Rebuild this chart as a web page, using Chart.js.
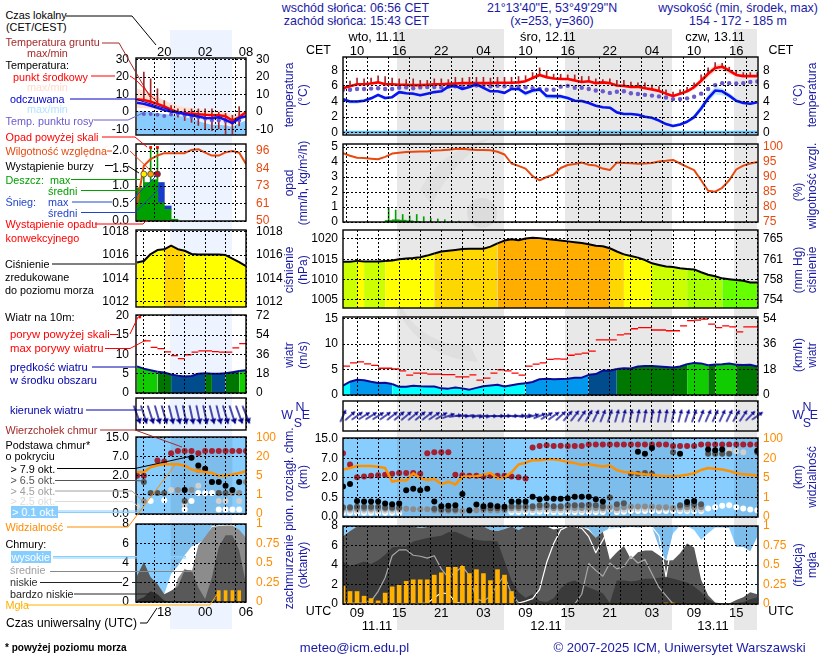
<!DOCTYPE html>
<html lang="pl">
<head>
<meta charset="utf-8">
<title>Meteogram ICM</title>
<script src="https://cdn.jsdelivr.net/npm/chart.js@4/dist/chart.umd.min.js"></script>
<style>
  html, body { margin: 0; padding: 0; background: #fff; }
  #page { position: relative; width: 820px; height: 660px; overflow: hidden; font: 12.4px "Liberation Sans", Arial, sans-serif; }
  #page canvas, #page svg { position: absolute; }
  .band { position: absolute; }
  .lab { position: absolute; white-space: nowrap; transform: translateY(-50%); line-height: 1; font-size: 10.8px; }
  .rot { position: absolute; white-space: nowrap; transform: translate(-50%, -50%) rotate(-90deg); line-height: 1; color: #1a1aa6; font-size: 12px; }
  .mid { position: absolute; white-space: nowrap; transform: translate(-50%, -50%); line-height: 1; }
</style>
</head>
<body>
<div id="page"></div>
<script>
// hours counted from 00 UTC on 11.11
const mainHours = [7,8,9,10,11,12,13,14,15,16,17,18,19,20,21,22,23,24,25,26,27,28,29,30,31,32,33,34,35,36,37,38,39,40,41,42,43,44,45,46,47,48,49,50,51,52,53,54,55,56,57,58,59,60,61,62,63,64,65,66];
const leftHours = [14,15,16,17,18,19,20,21,22,23,24,25,26,27,28,29,30];
const nightMain = [[14.7, 29.95], [38.7, 53.95], [62.7, 66.1]];
const nightLeft = [[18.95, 28]];
const cloudLevelKm = ['0.0', '0.5', '2.0', '7.0', '15.0'];
const visLevelKm = ['0', '1', '5', '20', '100'];
const stripHours = [7, 66];
const tempStrip = [0.05, 0.05];

// main panel: temperature
const tempMid = [5.7,5.95,6.2,6.2,6.3,6.45,6.2,6.2,6.15,6.15,6.1,6.1,6.15,6.2,6.2,6.25,6.3,6.35,6.35,6.35,6.35,6.35,6.4,6.4,6.4,6.45,6.6,7.0,7.4,7.1,6.95,6.9,6.87,6.7,6.5,6.6,6.35,6.45,6.35,6.05,6.0,5.85,5.9,5.7,5.55,5.35,5.0,4.7,5.0,5.3,5.85,6.65,7.55,8.3,8.45,7.95,7.4,7.25,7.25,7.25];
const tempMax = [5.8,6.1,6.3,6.3,6.4,6.6,6.4,6.3,6.25,6.2,6.2,6.2,6.2,6.3,6.3,6.3,6.4,6.4,6.4,6.4,6.4,6.4,6.5,6.5,6.5,6.5,6.7,7.15,7.65,7.4,7.1,7.0,7.0,6.8,6.6,6.7,6.45,6.6,6.45,6.2,6.1,6.0,6.0,5.8,5.65,5.45,5.1,4.8,5.15,5.5,6.1,7.0,7.95,8.75,8.85,8.3,7.65,7.35,7.3,7.3];
const tempMin = [5.6,5.8,6.1,6.1,6.2,6.3,6.1,6.1,6.05,6.05,6.0,6.0,6.05,6.1,6.1,6.15,6.2,6.25,6.25,6.25,6.25,6.25,6.3,6.3,6.3,6.35,6.5,6.85,7.15,6.9,6.8,6.75,6.7,6.55,6.4,6.5,6.25,6.3,6.2,5.95,5.9,5.75,5.8,5.6,5.45,5.25,4.9,4.6,4.85,5.1,5.5,6.2,7.1,7.8,7.95,7.55,7.2,7.15,7.15,7.15];
const feltMid = [4.3,4.0,4.0,4.1,4.4,4.85,4.45,4.55,5.2,5.05,5.0,4.8,5.0,5.2,5.3,5.9,6.0,5.6,5.85,6.2,5.75,5.3,5.3,5.1,5.6,5.6,5.05,5.4,5.55,4.7,4.68,4.68,4.45,4.1,4.05,3.8,3.45,3.25,3.2,2.6,2.4,2.4,2.3,2.05,1.9,1.55,1.1,0.85,1.05,1.4,2.0,3.1,4.4,5.4,5.3,4.75,4.1,3.8,3.7,3.9];
const feltMax = [4.5,4.2,4.2,4.3,4.6,5.0,4.6,4.7,5.3,5.2,5.1,4.9,5.1,5.3,5.4,6.0,6.1,5.7,5.95,6.3,5.85,5.4,5.4,5.25,5.75,5.75,5.2,5.6,5.7,4.9,4.85,4.8,4.65,4.3,4.25,4.0,3.6,3.4,3.35,2.75,2.55,2.55,2.45,2.2,2.05,1.7,1.25,1.0,1.25,1.6,2.3,3.5,4.9,5.9,5.7,5.1,4.4,3.95,3.85,4.0];
const feltMin = [4.0,3.7,3.7,3.9,4.2,4.6,4.2,4.4,5.0,4.9,4.85,4.65,4.85,5.05,5.15,5.75,5.85,5.45,5.7,6.05,5.6,5.15,5.15,4.95,5.4,5.35,4.7,5.1,5.2,4.3,4.3,4.35,4.2,3.9,3.85,3.6,3.3,3.1,3.05,2.45,2.25,2.25,2.15,1.9,1.7,1.35,0.95,0.7,0.9,1.2,1.7,2.7,3.9,4.9,4.8,4.4,3.85,3.65,3.55,3.75];
const dewMain = [5.5,5.5,5.6,5.6,5.65,5.7,5.6,5.6,5.75,5.8,5.7,5.8,5.85,5.85,5.8,5.9,5.95,5.9,6.0,6.05,6.0,5.95,6.0,5.95,5.9,5.9,5.8,5.7,5.6,5.5,5.5,5.9,6.0,5.75,5.75,5.6,5.4,5.3,5.1,5.25,5.3,5.05,4.95,4.85,4.75,4.65,4.5,4.3,4.3,4.4,4.6,5.0,5.6,6.1,6.35,6.35,6.3,6.35,6.5,6.55];
const soilMaxMain = [6.1,6.6,7.0,6.9,7.0,7.3,7.2,7.0,6.9,6.8,6.9,6.7,6.7,6.9,6.9,6.8,7.1,7.0,7.1,7.1,7.1,7.0,7.1,7.1,7.1,7.2,7.3,7.7,8.3,7.9,7.5,7.5,7.4,7.4,7.2,7.2,6.9,6.8,6.9,6.7,6.7,6.5,6.4,6.4,6.1,5.9,5.5,5.2,5.5,5.8,6.4,7.4,8.3,9.0,8.9,8.4,7.9,7.7,7.7,7.7];

// main panel: precipitation and humidity
const rainMaxHours = [13.5,14.5,15.5,16.5,17.5,18.5,19.5,20.5,21.5,22.5,23.5];
const rainMaxMain = [0.97,0.8,0.5,0.4,0.5,0.35,0.25,0.2,0.15,0.08,0.06];
const rainMeanHours = [13.5,14.5,15.5,16.5,17.5];
const rainMeanMain = [0.1,0.15,0.12,0.08,0.03];
const humidMain = [97.9,97.1,96.4,96.3,96.1,95.9,96.7,97.8,98.1,98.3,98.4,98.5,98.5,98.8,98.9,99.1,99.3,99.4,99.2,99.0,99.0,98.9,98.4,97.5,94.5,93.7,92.8,90.3,88.9,90.0,90.8,93.0,94.0,94.3,94.8,94.1,93.8,92.8,92.3,94.8,94.7,94.6,94.4,94.5,94.7,95.2,95.4,95.7,94.5,93.4,92.3,88.9,85.4,85.1,86.4,88.9,92.5,93.8,94.5,95.0];

// main panel: pressure (hPa)
const pressMain = [1014.4,1014.4,1014.6,1014.45,1014.45,1014.45,1014.55,1014.7,1015,1015.2,1015.3,1015.5,1015.9,1016.4,1016.9,1017.1,1017.3,1017.5,1017.6,1017.6,1017.6,1018.1,1018.9,1019.6,1019.9,1019.7,1020.1,1020.3,1020.2,1020,1019.8,1019.6,1019.4,1019.2,1019,1018.7,1018.3,1018.2,1017.7,1016.9,1016.2,1015.8,1015.4,1014.8,1014,1013.6,1013.2,1013.1,1012.8,1012.6,1012.5,1011.8,1011.2,1010.8,1010.3,1010.1,1009.9,1009.7,1009.3,1009.3];

// main panel: wind (m/s) and direction the arrow points to (degrees)
const windMain = [1.85,2.6,3.0,2.9,2.6,2.35,2.4,2.15,1.6,1.6,1.8,1.7,1.65,1.65,1.3,1.25,1.45,1.3,1.05,1.4,1.7,1.85,2.0,1.65,1.9,2.15,2.3,2.55,3.1,3.2,3.1,3.15,3.2,3.4,3.4,3.95,4.1,4.8,4.75,5.1,5.25,5.2,5.6,5.7,5.7,5.6,5.5,5.4,5.6,6.05,6.3,6.2,5.85,6.0,6.05,6.2,5.95,5.9,5.95,5.6];
const gustMain = [5.65,6.3,6.5,6.1,5.8,5.25,5.25,5.1,4.75,3.9,4.3,4.3,4.1,4.1,4,4,3.55,3.55,3.95,2.9,3.3,4.3,4.95,4.75,4.3,3.9,5.65,6.05,6.3,7.0,7.1,7.05,7.8,8.0,8.2,8.6,10.8,10.8,10.8,11.8,12,13,13.2,13.2,12.75,12.75,12.6,12.6,13.55,14.6,14.7,14.9,13.9,13.2,13.55,13.35,12.4,13.35,13.35,13.35];
const dirMain = [25,48,55,58,58,58,55,52,50,50,50,50,52,56,60,70,82,92,96,98,96,92,90,88,88,86,84,76,68,60,55,48,42,38,35,30,26,22,18,16,14,12,12,10,10,10,10,12,15,18,20,22,24,25,25,26,30,34,44,55];

// main panel: cloud base / top heights, on the level axis 0..4 (0, 0.5, 2, 7, 15 km)
const cloudTop = [3.25,2.68,2.03,2.06,2.1,2.13,2.16,2.2,2.25,2.25,2.25,2.2,3.25,3.3,3.3,3.3,2.16,2.13,2.1,2.1,2.06,2.1,2.1,2.1,2.06,2.03,1.96,3.54,3.62,3.66,3.62,3.63,3.62,3.62,3.62,3.7,3.7,3.7,3.7,3.7,3.7,3.7,3.7,3.7,3.7,3.7,3.7,3.62,3.62,3.62,3.62,3.7,3.7,3.7,3.7,3.7,3.7,3.7,3.7,3.7];
const base79 = [1.55,1.68,0.82,0.79,0.79,0.79,0.69,0.65,0.69,1.37,1.44,1.37,1.44,0.79,0.55,0.57,0.6,1.17,0.34,0.64,0.55,0.6,0.55,0.52,0.79,0.79,0.79,1.03,0.91,0.96,0.93,0.93,0.96,1.03,1.03,1.03,0.91,0.79,null,null,null,null,3.33,3.23,3.52,null,null,null,3.23,0.77,0.81,null,3.44,3.4,3.44,null,null,null,null,3.38];
const base65 = [0.5,0.5,0.52,0.52,0.52,0.52,0.48,0.48,0.48,null,null,null,null,0.42,0.38,0.38,0.38,null,null,null,0.45,0.45,0.45,0.42,0.55,0.55,0.55,0.55,0.6,0.6,0.55,0.55,0.6,0.6,0.6,0.62,0.6,0.55,1.0,0.65,0.7,2.2,2.2,2.25,2.2,null,null,3.3,0.6,0.65,0.65,0.65,3.23,3.23,3.23,3.23,null,null,null,3.3];
const base45 = [0.42,0.42,0.42,0.42,0.42,0.42,0.42,0.42,0.42,0.42,0.4,0.4,0.4,0.35,0.32,0.32,0.32,0.3,0.3,0.35,0.35,0.35,0.35,0.35,0.45,0.45,0.45,0.45,0.48,0.48,0.45,0.45,0.46,0.46,0.46,0.46,0.46,0.44,0.5,0.45,0.5,0.52,0.53,0.53,0.52,0.5,0.5,0.46,0.5,0.5,0.5,0.5,null,null,null,null,null,null,null,null];
const base25 = [0.32,0.32,0.32,0.32,0.32,0.32,0.32,0.32,0.32,null,null,null,null,null,null,null,null,null,null,null,null,null,null,null,0.35,0.35,0.35,0.35,0.37,0.37,0.35,0.35,0.35,0.35,0.35,0.36,0.36,0.36,0.4,0.35,0.37,0.42,0.42,0.42,0.42,0.42,0.42,0.4,0.4,0.38,0.38,0.38,null,null,null,3.4,3.35,3.3,null,null];
const base01 = [0.22,0.22,0.22,0.22,0.22,0.22,0.22,0.22,0.22,null,null,null,null,null,null,null,null,null,null,null,null,null,null,null,0.25,0.25,0.25,0.25,0.27,0.27,0.25,0.25,0.25,0.25,0.25,0.26,0.26,0.26,0.4,0.25,0.27,0.3,0.3,0.3,0.3,0.3,0.3,0.3,0.3,0.3,0.3,0.3,0.43,0.5,0.58,0.6,0.5,0.43,0.38,0.34];
const visMain = [2.42,2.5,2.6,2.6,2.6,2.56,2.5,1.8,1.89,1.86,2.23,1.98,1.89,1.94,1.68,1.8,1.65,2.06,2.06,2.08,2.15,2.25,1.98,2.01,2.28,2.68,2.77,2.9,2.9,2.94,2.94,2.89,2.8,2.75,2.66,2.7,2.63,2.58,2.63,2.39,2.3,2.27,2.22,2.18,2.15,2.11,2.08,2.08,2.11,2.16,2.23,2.4,2.5,2.46,2.42,2.35,2.23,2.18,2.15,2.11];

// main panel: cloud cover (okta), fog as a fraction
const coverTop = [6.94,7.5,7.94,7.94,7.94,7.94,7.94,7.94,7.94,7.94,7.94,7.8,7.9,7.94,7.94,7.94,7.94,7.94,7.94,7.94,7.94,7.6,7.5,7.7,7.94,7.6,7.94,7.94,7.94,7.94,7.94,7.94,7.95,7.95,7.9,7.7,6.8,7.4,7.75,7.8,7.8,7.9,7.8,8,7.9,5.85,4.4,7.25,8,8,7.6,6.6,7.25,7.85,7.85,7.8,5.85,5.85,5.4,6.9];
const coverMid = [6.94,7.5,7.94,7.94,7.94,7.94,7.94,7.94,7.94,7.94,7.94,7.8,7.9,7.94,7.94,7.94,7.94,7.94,7.94,7.94,7.94,7.6,7.5,7.7,7.94,7.6,7.94,7.94,7.94,7.94,7.65,7.8,7.95,7.95,7.9,7.55,6.8,7.4,4.55,5.3,5.95,4.6,5.3,5.5,5.5,5.0,4.45,4.5,5.2,6.2,5.8,2.5,0.9,0.15,0.05,0.05,0.4,0.7,1.2,1.0];
const coverLow = [4.33,3.9,4.1,4.36,4.1,4.5,5.05,5.8,5.9,5.9,6.4,6.6,6.77,6.9,7.0,7.35,7.4,7.1,6.77,6.6,6.5,6.5,6.4,4.4,2.4,1.2,0.65,1.0,0.3,0.2,0.6,1.6,2.2,2.4,2.0,1.7,1.4,1.1,0.1,2.4,2.4,2.3,2.4,2.6,2.6,2.7,2.8,2.6,2.4,2.2,1.8,1.2,0.5,0.1,0.05,0.05,0.1,0.2,0.5,0.7];
const midLineMain = [0.2,0.1,0.1,0.1,0.3,1.3,2.7,4.95,5.55,5.55,5.0,4.9,4.7,4.95,3.6,2.7,3.25,3.85,2.9,0.5,0.3,0.8,2.0,2.9,1.0,0.15,0.05,0,0,0,0,0,0,0,1.0,4.15,3.45,2.85,4.2,3.6,3.85,4.9,4.2,4.55,3.1,1.7,0.85,0,null,null,null,null,null,null,null,null,null,null,null,null];
const highLineMain = [0.1,0.05,0.05,0.05,0.05,0.05,0.05,0.05,0.05,0.05,0.05,0.05,0.1,0.65,1.15,1.05,0.2,0.05,0,0,0,0,0,0,0,0.1,0.3,0.55,1.5,4.25,6.2,7.6,7.95,7.95,7.75,6.9,5.25,6.55,7.9,7.9,7.9,7.9,7.9,8,7.9,7,2.8,7,8,null,null,null,null,null,null,null,null,null,null,null];
const fogMain = [0.23,0.16,0.16,0.1,0.07,0.04,0.14,0.22,0.24,0.29,0.31,0.31,0.31,0.37,0.4,0.47,0.47,0.49,0.39,0.44,0.39,0.3,0.44,0.37,0.16,0,0,0,0,0,0,0,0,0,0,0,0,0,0,0,0,0,0,0,0,0,0.012,0.012,0,0,0,0,0,0,0,0,0,0,0,0];

// left panel: temperature
const tempMidL = [7.3,6.9,5.8,4.6,3.1,1.3,-0.2,-0.6,-1,-1.3,-1.7,-1.9,-1.9,-2.5,-5,-3,-0.2];
const tempMaxL = [13.3,12.3,10.4,8.5,6.5,5,3.7,2.7,2.3,1.7,0.8,0.8,0.8,-0.2,-1.5,0,1];
const tempMinL = [2.2,2.2,1.8,1,0.4,-0.6,-1.2,-2.2,-3,-3.8,-4.6,-5,-4.8,-6,-8,-5.4,-3.5];
const feltMidL = [5.2,4.6,3.5,2.3,1,0.2,-0.4,-1.2,-1.9,-2.7,-3.5,-3.7,-3.1,-4.6,-6.5,-3.5,-2.5];
const feltMaxL = [0.5,0.3,0,-0.6,-1.2,-1.6,-2.2,-3,-4,-5.2,-6.5,-7.4,-7.4,-7.8,-8.6,-6.4,-5];
const dewL = [null,-1.2,-1.2,-1.7,-2.3,-1.5,-1.2,-2,-3,-3.3,-4,-5,-5,-5.3,-6,-5,null];
const soilMaxL = [null,22.9,19,13.3,6.5,3.6,1.7,1.7,1.7,1.7,1.7,1.7,0,-0.8,-2,3,null];
const soilMinL = [null,7,5,4,3,-2.1,-3,-5,-6,-7.8,-9.8,-10.8,-9.8,-12.7,-12.7,-8,null];

// left panel: precipitation and humidity
const rainHoursL = [14.5,15.5,16.5,17.5,18.5,19.5];
const rainMeanL = [0.95,1.1,1.18,0.52,0.33,0.05];
const snowBaseL = [0.52,0.33];
const snowTopL = [1.1,0.43];
const snowHoursL = [17.5,18.5];
const rainSpikeHours = [15,16,17];
const rainSpikeTop = [1.34,2.1,2.1];
const overflowHours = [16,17];
const overflowRain = [2.1,2.1];
const stormHours = [15,16,17];
const stormLevel = [1.34,1.34,1.34];
const humidL = [60.8,86.3,90.7,93,94.6,94.6,94.6,94.6,96.7,97.2,94.9,93,93,95.1,96,94.9,87.5];
const convectHours = [14,15,16,17,18,19];
const convectLevel = [0.01,0.01,0.01,0.01,0.01,0.01];

// left panel: pressure, wind
const pressL = [1015.37,1015.5,1016.09,1016.43,1016.49,1016.8,1016.5,1016.37,1016.09,1016.05,1016.05,1016.05,1016.05,1016,1015.7,1015.4,1015.06];
const windL = [6.9,6.3,5.9,5.5,5.3,4.8,4.5,4.3,4.4,5,5.1,4.99,4.99,5.1,5.4,5.7,5.9];
const gustL = [null,13.5,11.8,11.5,10.65,9.7,8.9,9.9,10.6,10.9,10.9,10.7,10.6,10.6,11.7,12.8,13];
const gustOverHours = [14.4];
const gustOver = [19.7];
const dirL = [160,162,162,164,164,166,166,168,168,168,168,166,166,164,162,160,158];

// left panel: cloud heights on the level axis
const cloudTopL = [2,2,null,2.8,2.75,3.18,3.3,3.3,3.3,3.18,3.3,3.3,3.3,3.3,3.3,3.3,3.3];
const base79L = [null,null,null,null,null,null,null,1.26,2.95,2.54,2.37,1.68,1.68,1.48,1.26,1.68,null];
const base65L = [null,1.68,1.1,1.1,1.1,null,null,0.68,null,null,null,null,1.1,1.1,null,null,null];
const base45L = [null,0.68,null,null,null,null,1.26,null,1.26,2.3,null,1.68,null,null,1.1,1.1,1.68];
const base25L = [0.4,null,null,null,null,1.26,null,0.5,null,1.48,null,null,0.68,0.68,null,0.68,null];
const base01L = [null,0.68,0.68,null,0.72,null,null,0.24,0.68,1.1,1.1,1.1,0.24,0.24,0.24,0.24,null];
const visL = [2.2,2.2,2.45,2.55,2.6,2.6,2.6,2.53,2.33,2.24,2.2,2.15,2,2.02,2.07,2.15,2.24];

// left panel: cloud cover
const coverTopL = [0,0,0,0,0.8,2.9,3.7,4.8,5.7,6,6.5,7.8,7.85,7.95,8,7.2,6.4];
const coverMidL = [0,0,0,0,0,0,2.4,3.4,3,5.8,6.7,7.7,7.8,7.85,7.85,7.4,6.6];
const coverLowL = [2.7,4.1,2.55,1.85,0.8,1.15,1.6,3.25,3.25,1.5,0.3,2.55,5.65,6.85,6.85,5.3,1.85];
const coverVeryLowL = [0.2,0.5,1.1,0.8,0.15,0,0,0,0,0,0,0,0,0,0,0,0];
const fogHoursL = [26,27,28,29];
const fogL = [0.146,0.146,0.146,0.146];

const FONT = '"Liberation Sans", Arial, sans-serif';
const page = document.getElementById('page');
const MAIN = { l: 342.5, w: 415, min: 7, max: 66.1, nights: nightMain };
const LEFT = { l: 135.5, w: 110, min: 13.85, max: 30, nights: nightLeft };

function toXY(xs, ys) {
  return ys.map((y, i) => ({ x: xs[i], y }));
}
function stepped(xs, ys) {
  const out = [];
  ys.forEach((y, i) => {
    if (y === null) return;
    out.push({ x: xs[i], y }, { x: xs[i] + 1, y }, { x: xs[i] + 1, y: null });
  });
  return out;
}
function ranges(xs, lo, hi) {
  return lo.map((v, i) => ({ x: xs[i], y: [v, hi[i]] })).filter((p) => p.y[0] !== null);
}

function pressColor(v) {
  if (v < 1010.8) return '#66ff00';
  if (v < 1012.7) return '#a8ff00';
  if (v < 1014.5) return '#ccff00';
  if (v < 1016.4) return '#ffff00';
  if (v < 1018.15) return '#ffd700';
  return '#ffae00';
}
function pressColorL(v) {
  return v >= 1016.45 ? '#ffd400' : '#ffff00';
}
function windColor(v) {
  if (v < 2.2) return '#00ffff';
  if (v < 3.9) return '#0099ee';
  if (v < 5.05) return '#004c8c';
  if (v < 6) return '#007700';
  return '#11cc00';
}
function windColorL(v) {
  if (v < 5.05) return '#004c8c';
  if (v < 5.7) return '#007700';
  return '#11cc00';
}

function arrowSprite(len, head, color) {
  const c = document.createElement('canvas');
  c.width = 30;
  c.height = 30;
  const g = c.getContext('2d');
  g.strokeStyle = color;
  g.fillStyle = color;
  g.lineWidth = 1.4;
  g.beginPath();
  g.moveTo(15, 15 + len / 2);
  g.lineTo(15, 15 - len / 2);
  g.stroke();
  const tip = 15 - len / 2;
  g.beginPath();
  g.moveTo(15, tip);
  g.lineTo(15 - head, tip + head * 1.5);
  g.lineTo(15 + head, tip + head * 1.5);
  g.closePath();
  g.fill();
  return c;
}

// one Chart.js instance per panel; canvas is bigger than the plot so ticks fit.
// the padding must stay above half a tick label + tick padding or the plot shrinks
function panel(o) {
  const padX = 62, padT = o.padT || 20, padB = o.padB || 20;
  const canvas = document.createElement('canvas');
  canvas.width = Math.round(o.area.w + padX * 2);
  canvas.height = Math.round(o.h + padT + padB);
  canvas.style.left = (o.area.l - padX) + 'px';
  canvas.style.top = (o.t - padT) + 'px';
  page.appendChild(canvas);
  const tickFont = { family: FONT, size: 12 };
  const framePlugin = {
    id: 'frame',
    beforeDatasetsDraw(chart) {
      if (!o.bg) return;
      const { ctx, chartArea: a, scales } = chart;
      ctx.save();
      ctx.fillStyle = o.bg;
      ctx.fillRect(a.left, a.top, a.width, a.height);
      ctx.fillStyle = o.bgNight;
      o.area.nights.forEach(([from, to]) => {
        const x0 = scales.x.getPixelForValue(from);
        const x1 = scales.x.getPixelForValue(to);
        ctx.fillRect(x0, a.top, x1 - x0, a.height);
      });
      ctx.restore();
    },
    afterDraw(chart) {
      const { ctx, chartArea: a } = chart;
      ctx.save();
      ctx.strokeStyle = '#000';
      ctx.lineWidth = 1.4;
      ctx.strokeRect(a.left, a.top, a.width, a.height);
      ctx.restore();
    }
  };
  // labels are clipped to the axis box, so a labelled x axis takes the padding as its height
  const xHeight = o.xLabel ? (o.xTop ? padT : padB) : 0;
  const xOpts = {
    type: 'linear',
    position: o.xTop ? 'top' : 'bottom',
    min: o.area.min,
    max: o.area.max,
    offset: false,
    afterFit: (s) => { s.height = xHeight; },
    border: { display: false, dash: [2, 2] },
    grid: { color: '#000', lineWidth: 1, drawTicks: false, z: 1 },
    ticks: {
      stepSize: 3,
      includeBounds: false,
      autoSkip: false,
      maxRotation: 0,
      padding: o.xPad || 0,
      font: { family: FONT, size: 13 },
      color: '#000',
      display: Boolean(o.xLabel),
      callback: o.xLabel || (() => '')
    }
  };
  const yAxis = (id, pos, range, ticks, label, color, pad, width) => ({
    axis: 'y',
    position: pos,
    min: range[0],
    max: range[1],
    afterFit: (s) => { s.width = width; },
    afterBuildTicks: (s) => { s.ticks = ticks.map((value) => ({ value })); },
    border: { display: false, dash: [2, 2] },
    grid: id === 'y'
      ? { color: '#000', lineWidth: 1, drawTicks: false, z: 1, display: ticks.length > 0 }
      : { display: false, drawTicks: false },
    ticks: {
      font: tickFont,
      color,
      padding: pad,
      autoSkip: false,
      callback: label || ((v) => String(v))
    }
  });
  const pad = o.area === MAIN ? 5 : 7;
  const padR = o.area === MAIN ? 5 : 10;
  const y2Range = o.y2Range || o.yRange;
  const y2Ticks = o.y2Ticks || o.yTicks;
  return new Chart(canvas, {
    type: 'line',
    data: { datasets: o.datasets },
    options: {
      responsive: false,
      animation: false,
      devicePixelRatio: 1,
      events: [],
      layout: { padding: {
        top: o.xLabel && o.xTop ? 0 : padT,
        bottom: o.xLabel && !o.xTop ? 0 : padB,
        left: 0,
        right: 0
      } },
      parsing: { xAxisKey: 'x', yAxisKey: 'y' },
      plugins: { legend: { display: false }, tooltip: { enabled: false } },
      elements: { line: { tension: 0, borderJoinStyle: 'round' }, point: { radius: 0 } },
      scales: {
        x: xOpts,
        y: yAxis('y', 'left', o.yRange, o.yTicks, o.yLabel, '#000', pad, padX),
        y2: yAxis('y2', 'right', y2Range, y2Ticks, o.y2Label, o.y2Color || '#000', padR, padX)
      }
    },
    plugins: [framePlugin]
  });
}

function line(data, color, width, extra) {
  return Object.assign({ data, borderColor: color, borderWidth: width, pointRadius: 0, fill: false, spanGaps: false }, extra);
}
function dots(data, color, r, extra) {
  return Object.assign({ data, showLine: false, pointRadius: r || 3, pointBackgroundColor: color, pointBorderWidth: 0, borderWidth: 0 }, extra);
}
function filled(values, hours, border, width, colorFn) {
  return {
    data: toXY(hours, values),
    borderColor: border,
    borderWidth: width,
    pointRadius: 0,
    fill: 'start',
    backgroundColor: colorFn(values[0]),
    segment: { backgroundColor: (ctx) => colorFn(values[ctx.p0DataIndex]) }
  };
}
function solidFill(values, hours, color) {
  return { data: toXY(hours, values), borderWidth: 0, pointRadius: 0, fill: 'start', backgroundColor: color };
}
function band(upper, lower, hours, color) {
  return [
    { data: toXY(hours, upper), borderWidth: 0, pointRadius: 0, fill: '+1', backgroundColor: color },
    { data: toXY(hours, lower), borderWidth: 0, pointRadius: 0, fill: false }
  ];
}
function bars(data, color, width, yAxisID) {
  return { type: 'bar', data, backgroundColor: color, barThickness: width, grouped: false, yAxisID: yAxisID || 'y', borderWidth: 0 };
}

const cetLabel = (v) => ((v - 9) % 6 === 0 ? String((v + 1) % 24).padStart(2, '0') : '');
const utcLabel = (v) => ((v - 9) % 6 === 0 ? String(v % 24).padStart(2, '0') : '');
const cetLabelL = (v) => (v % 6 === 0 ? String((v + 2) % 24).padStart(2, '0') : '');
const utcLabelL = (v) => (v % 6 === 0 ? String(v % 24).padStart(2, '0') : '');
const fixed1 = (v) => v.toFixed(1);
const BG = '#87cefe', BG_NIGHT = '#7dbdec';

// ---- bands behind everything ----
function nightBand(area, from, to, top, bottom, color) {
  const k = area.w / (area.max - area.min);
  const d = document.createElement('div');
  d.className = 'band';
  d.style.cssText = `left:${area.l + (from - area.min) * k}px;width:${(to - from) * k}px;top:${top}px;height:${bottom - top}px;background:${color}`;
  page.appendChild(d);
}
nightMain.forEach(([a, b]) => nightBand(MAIN, a, b, 29, 630, '#e8e8e8'));
nightLeft.forEach(([a, b]) => nightBand(LEFT, a, b, 30, 629, '#eef4ff'));

// faint logo behind the main panels
page.insertAdjacentHTML('beforeend', `<svg width="820" height="660" style="left:0;top:0">
  <circle cx="482" cy="213" r="15" fill="#000" opacity="0.05"/>
  <path d="M397 250 A72 72 0 0 0 470 345 L478 362 A92 92 0 0 1 400 315 Z" fill="#000" opacity="0.035"/>
  <path d="M420 190 Q440 150 490 138 Q450 165 432 205 Z" fill="#000" opacity="0.03"/>
</svg>`);

// ---- main column ----
panel({
  area: MAIN, t: 57, h: 78, xTop: true, xLabel: cetLabel, xPad: -2,
  yRange: [-0.3, 9.7], yTicks: [0, 2, 4, 6, 8],
  datasets: [
    line(toXY(mainHours, feltMid), '#0a14f0', 2.6),
    line(toXY(mainHours, tempMid), '#ff0000', 2.6),
    dots(toXY(mainHours, dewMain), '#6a5acd', 2.2),
    bars(ranges(mainHours, tempMid, soilMaxMain), '#a52a2a', 1),
    ...band(feltMax, feltMin, mainHours, '#bde6ff'),
    ...band(tempMax, tempMin, mainHours, '#ffd8d0'),
    line(toXY(stripHours, tempStrip), '#62bdf0', 3)
  ]
});

panel({
  area: MAIN, t: 144, h: 77.5,
  yRange: [0, 5.2], yTicks: [0, 1, 2, 3, 4, 5],
  y2Range: [75, 101], y2Ticks: [75, 80, 85, 90, 95, 100], y2Color: '#e8490f',
  datasets: [
    line(toXY(mainHours, humidMain), '#e8490f', 2, { yAxisID: 'y2' }),
    bars(toXY(rainMeanHours, rainMeanMain), '#00a000', 7),
    bars(toXY(rainMaxHours, rainMaxMain), '#00a000', 1)
  ]
});

panel({
  area: MAIN, t: 230, h: 78.3,
  yRange: [1003, 1022.2], yTicks: [1005, 1010, 1015, 1020],
  y2Label: (v) => String(Math.round(v * 0.75006)),
  datasets: [filled(pressMain, mainHours, '#000', 2, pressColor)]
});

panel({
  area: MAIN, t: 317.3, h: 77.7,
  yRange: [0, 15.3], yTicks: [0, 5, 10, 15],
  y2Label: (v) => String(Math.round(v * 3.6)),
  datasets: [
    line(stepped(mainHours, gustMain), '#ff0000', 1.3),
    filled(windMain, mainHours, '#0a0a96', 2, windColor)
  ]
});

panel({
  area: MAIN, t: 401.3, h: 30.4,
  yRange: [0, 1], yTicks: [],
  datasets: [{
    data: mainHours.map((x) => ({ x, y: 0.5 })),
    showLine: false,
    clip: false,
    pointRadius: 1,
    pointStyle: arrowSprite(13, 2.4, '#0a0a96'),
    pointRotation: dirMain
  }]
});

panel({
  area: MAIN, t: 437.5, h: 78.5,
  bg: BG, bgNight: BG_NIGHT,
  yRange: [0, 4.03], yTicks: [0, 1, 2, 3, 4],
  yLabel: (v) => cloudLevelKm[v],
  y2Label: (v) => visLevelKm[v], y2Color: '#ff8c00',
  datasets: [
    line(toXY(mainHours, visMain), '#ff9000', 2.5),
    dots(toXY(mainHours, base79), '#000'),
    dots(toXY(mainHours, base65), '#555'),
    dots(toXY(mainHours, base45), '#8c8c8c'),
    dots(toXY(mainHours, base25), '#d0d0d0'),
    dots(toXY(mainHours, base01), '#fff'),
    dots(toXY(mainHours, cloudTop), '#a52030')
  ]
});

panel({
  area: MAIN, t: 525.7, h: 77.6, padB: 24, xLabel: utcLabel, xPad: 2,
  bg: BG, bgNight: BG_NIGHT,
  yRange: [0, 8], yTicks: [0, 2, 4, 6, 8],
  y2Range: [0, 1], y2Ticks: [0, 0.25, 0.5, 0.75, 1], y2Color: '#ff8c00',
  datasets: [
    bars(toXY(mainHours, fogMain), '#ffb000', 4, 'y2'),
    line(toXY(mainHours, highLineMain), '#ffffff', 1.2),
    line(toXY(mainHours, midLineMain), '#a8a8a8', 1.2),
    solidFill(coverLow, mainHours, '#3a3a3a'),
    solidFill(coverMid, mainHours, '#595959'),
    solidFill(coverTop, mainHours, '#ffffff')
  ]
});

// ---- left column ----
panel({
  area: LEFT, t: 57.5, h: 77, xTop: true, xLabel: cetLabelL, xPad: -2,
  yRange: [-13.3, 31], yTicks: [-10, 0, 10, 20, 30],
  datasets: [
    line(toXY(leftHours, feltMidL), '#0a14f0', 2.5),
    line(toXY(leftHours, tempMidL), '#ff0000', 2.5),
    dots(toXY(leftHours, dewL), '#6a5acd', 2),
    bars(ranges(leftHours, soilMinL, soilMaxL), '#a52a2a', 1),
    { data: toXY(leftHours, feltMaxL), borderWidth: 0, pointRadius: 0, fill: 'start', backgroundColor: '#88ccff' },
    ...band(tempMaxL, tempMinL, leftHours, '#ffe0d2')
  ]
});

panel({
  area: LEFT, t: 143.5, h: 76.5,
  yRange: [0, 2.2], yTicks: [0, 0.5, 1, 1.5, 2], yLabel: fixed1,
  y2Range: [50, 100.6], y2Ticks: [50, 61.5, 73, 84.5, 96], y2Label: (v) => String(Math.floor(v)), y2Color: '#e8490f',
  datasets: [
    dots(toXY(convectHours, convectLevel), '#ff0000', 1),
    dots(toXY(overflowHours, overflowRain), '#ff0000', 2, { pointStyle: 'rect' }),
    dots(toXY(stormHours.slice(0, 1), stormLevel), '#ffee00', 3, { pointBorderWidth: 0.8, pointBorderColor: '#444' }),
    dots(toXY(stormHours.slice(1, 2), stormLevel), '#ffa000', 3, { pointBorderWidth: 0.8, pointBorderColor: '#444' }),
    dots(toXY(stormHours.slice(2), stormLevel), '#e00000', 3, { pointBorderWidth: 0.8, pointBorderColor: '#444' }),
    line(toXY(leftHours, humidL), '#e8490f', 2, { yAxisID: 'y2' }),
    bars(toXY(rainSpikeHours, rainSpikeTop), '#00a000', 1),
    bars(toXY(rainHoursL, rainMeanL), '#00a000', 7),
    bars(ranges(snowHoursL, snowBaseL, snowTopL), '#1a3ccc', 7)
  ]
});

panel({
  area: LEFT, t: 229.5, h: 76.5,
  yRange: [1011.57, 1018.14], yTicks: [1012, 1014, 1016, 1018],
  datasets: [filled(pressL, leftHours, '#000', 2, pressColorL)]
});

panel({
  area: LEFT, t: 314.7, h: 77.6,
  yRange: [0, 20.2], yTicks: [0, 5, 10, 15, 20],
  y2Label: (v) => String(Math.round(v * 3.6)),
  datasets: [
    dots(toXY(gustOverHours, gustOver), '#ff0000', 1.5),
    line(stepped(leftHours, gustL), '#ff0000', 1.3),
    filled(windL, leftHours, '#0a0a96', 2, windColorL)
  ]
});

panel({
  area: LEFT, t: 398.3, h: 31.7,
  yRange: [0, 1], yTicks: [],
  datasets: [{
    data: leftHours.map((x) => ({ x, y: 0.48 })),
    showLine: false,
    clip: false,
    pointRadius: 1,
    pointStyle: arrowSprite(19, 3.4, '#00008b'),
    pointRotation: dirL
  }]
});

panel({
  area: LEFT, t: 436.7, h: 77.3,
  bg: BG, bgNight: BG_NIGHT,
  yRange: [0, 4.03], yTicks: [0, 1, 2, 3, 4],
  yLabel: (v) => cloudLevelKm[v],
  y2Label: (v) => visLevelKm[v], y2Color: '#ff8c00',
  datasets: [
    line(toXY(leftHours, visL), '#ff9000', 2.5),
    dots(toXY(leftHours, base79L), '#000'),
    dots(toXY(leftHours, base65L), '#555'),
    dots(toXY(leftHours, base45L), '#8c8c8c'),
    dots(toXY(leftHours, base25L), '#d0d0d0'),
    dots(toXY(leftHours, base01L), '#fff'),
    dots(toXY(leftHours, cloudTopL), '#a52030')
  ]
});

panel({
  area: LEFT, t: 523.5, h: 78, padB: 24, xLabel: utcLabelL, xPad: 3,
  bg: BG, bgNight: BG_NIGHT,
  yRange: [0, 8], yTicks: [0, 2, 4, 6, 8],
  y2Range: [0, 1], y2Ticks: [0, 0.25, 0.5, 0.75, 1], y2Color: '#ff8c00',
  datasets: [
    bars(toXY(fogHoursL, fogL), '#ffb000', 3, 'y2'),
    solidFill(coverVeryLowL, leftHours, '#2e2e2e'),
    solidFill(coverLowL, leftHours, '#595959'),
    solidFill(coverMidL, leftHours, '#8c8c8c'),
    solidFill(coverTopL, leftHours, '#ffffff')
  ]
});

// ---- texts ----
const NAVY = '#1a1aa6', DRED = '#a52a2a', RED = '#ff0000', ORANGE = '#ff8c00', HUM = '#e8490f', GREEN = '#00a000', BLUE = '#2244cc';
const leftTexts = [
  ['Czas lokalny', 5.5, 15, '#000'], ['(CET/CEST)', 6, 27, '#000'],
  ['Temperatura gruntu', 5.5, 42, DRED], ['max/min', 27, 52.5, DRED],
  ['Temperatura:', 5.5, 64.5, '#000'], ['punkt środkowy', 13, 76.5, RED],
  ['max/min', 27, 87, '#ffdccc'], ['odczuwana', 10, 98.5, '#0000cc'], ['max/min', 27, 109, '#b4e2ff'],
  ['Temp. punktu rosy', 5.5, 120.5, '#6a5acd'], ['Opad powyżej skali', 5.5, 137, RED],
  ['Wilgotność względna', 5.5, 151, HUM], ['Wystąpienie burzy', 5.5, 165.5, '#000'],
  ['Deszcz:', 5.5, 179.5, GREEN], ['max', 50, 179.5, GREEN], ['średni', 48, 190.5, GREEN],
  ['Śnieg:', 5.5, 201.5, BLUE], ['max', 48, 201.5, BLUE], ['średni', 48, 212.5, BLUE],
  ['Wystąpienie opadu', 5.5, 224, RED], ['konwekcyjnego', 5.5, 237.5, RED],
  ['Ciśnienie', 5, 263.5, '#000'], ['zredukowane', 5, 276.5, '#000'], ['do poziomu morza', 5, 289.5, '#000'],
  ['Wiatr na 10m:', 5, 318, '#000', null, 11.2], ['poryw powyżej skali', 10, 334.5, RED, null, 11.3], ['max porywy wiatru', 10, 348.5, RED, null, 11.3],
  ['prędkość wiatru', 10, 368, '#0000aa', null, 11.1], ['w środku obszaru', 10, 381, '#0000aa', null, 11.1], ['kierunek wiatru', 10, 409.5, '#0000aa', null, 10.9],
  ['Wierzchołek chmur', 5.5, 429.5, DRED], ['Podstawa chmur*', 5.5, 444.5, '#000'], ['o pokryciu', 5.5, 456, '#000'],
  ['> 7.9 okt.', 10.5, 468.5, '#000'], ['> 6.5 okt.', 10.5, 480, '#555'], ['> 4.5 okt.', 10.5, 490.5, '#a0a0a0'],
  ['> 2.5 okt.', 10.5, 501, '#dcdcdc'], ['> 0.1 okt.', 11, 511.5, '#fff', BG], ['Widzialność', 5.5, 526.5, ORANGE],
  ['Chmury:', 5.5, 543.5, '#000'], ['wysokie', 10.5, 556.5, '#fff', BG], ['średnie', 10, 569.5, '#a0a0a0'],
  ['niskie', 10, 581.5, '#333'], ['bardzo niskie', 10, 593.5, '#222'], ['Mgła', 5.5, 605, '#ffb000'],
  ['Czas uniwersalny (UTC)', 6, 622.5, '#000', null, 12.1]
];
leftTexts.forEach(([text, x, y, color, bg, size]) => {
  const s = document.createElement('span');
  s.className = 'lab';
  s.textContent = text;
  s.style.cssText = `left:${x}px;top:${y}px;color:${color};` + (bg ? `background:${bg};padding:0 1px;line-height:12px;` : '') + (size ? `font-size:${size}px;` : '');
  page.appendChild(s);
});

const centerTexts = [
  ['wschód słońca: 06:56 CET', 355.5, 8, NAVY], ['zachód słońca: 15:43 CET', 356.5, 21, NAVY],
  ['21°13\'40"E, 53°49\'29"N', 552, 8, NAVY], ['(x=253, y=360)', 552, 21, NAVY],
  ['wysokość (min, środek, max)', 738, 8, NAVY], ['154 - 172 - 185 m', 738, 21, NAVY],
  ['wto, 11.11', 377, 37, '#000', 12.8], ['śro, 12.11', 548, 37, '#000', 12.8], ['czw, 13.11', 715, 37, '#000', 12.8],
  ['CET', 318.5, 50, '#000'], ['CET', 781, 50, '#000'], ['UTC', 318.5, 611, '#000'], ['UTC', 781, 611, '#000'],
  ['11.11', 377, 625, '#000', 13], ['12.11', 546, 625, '#000', 13], ['13.11', 713, 625, '#000', 13],
  ['meteo@icm.edu.pl', 354.5, 648, NAVY, 13.1], ['© 2007-2025 ICM, Uniwersytet Warszawski', 679.5, 648, NAVY, 13.1],
  ['W', 287, 415, NAVY], ['N', 300, 407, NAVY], ['S', 298, 423, NAVY], ['E', 306, 415, NAVY],
  ['W', 798, 415, NAVY], ['N', 807, 407, NAVY], ['S', 807, 423, NAVY], ['E', 814, 415, NAVY]
];
centerTexts.forEach(([text, x, y, color, size]) => {
  const s = document.createElement('span');
  s.className = 'mid';
  s.textContent = text;
  s.style.cssText = `left:${x}px;top:${y}px;color:${color};` + (size ? `font-size:${size}px;` : '');
  page.appendChild(s);
});

const rotatedTexts = [
  ['temperatura', 289, 95], ['(°C)', 303, 95], ['opad', 289, 183], ['(mm/h, kg/m²/h)', 303, 183],
  ['ciśnienie', 289, 270], ['(hPa)', 303, 270], ['wiatr', 289, 355], ['(m/s)', 303, 355],
  ['pion. rozciągł. chm.', 289, 479], ['(km)', 303, 477], ['zachmurzenie', 289, 572], ['(oktanty)', 303, 565],
  ['temperatura', 812, 95], ['(°C)', 798, 95], ['wilgotność wzgl.', 812, 186], ['(%)', 798, 192],
  ['ciśnienie', 812, 270], ['(mm Hg)', 798, 270], ['wiatr', 812, 355], ['(km/h)', 798, 355],
  ['widzialność', 812, 477], ['(km)', 798, 477], ['mgła', 812, 565], ['(frakcja)', 798, 565]
];
rotatedTexts.forEach(([text, x, y]) => {
  const s = document.createElement('span');
  s.className = 'rot';
  s.textContent = text;
  s.style.cssText = `left:${x}px;top:${y}px`;
  page.appendChild(s);
});

page.insertAdjacentHTML('beforeend', '<span class="lab" style="left:5px;top:648px;font-size:10px;font-weight:bold">* powyżej poziomu morza</span>');

// leader lines from the legend texts into the left panels
const leaders = [
  ['66,16 132,16 156,45', '#000'], ['102,43 119,43 150,97', DRED], ['91,76 115,76', RED], ['130,76 136,80 157,102', RED],
  ['70,99 135,99 170,110', '#0000cc'], ['94,120 128,120 143,113', '#6a5acd'], ['102,137 135,137 147,147', RED],
  ['107,151 112,151', HUM], ['130,151 150,170', HUM], ['105,165.5 113,165.5', '#000'], ['128,166 139,173', '#000'],
  ['71,179.5 140,179.5', GREEN], ['81,190.5 148,190.5', GREEN], ['72,202 112,202', BLUE], ['130,202 160,172', BLUE],
  ['81,212.5 135,212.5 160,188', BLUE], ['95,224 143,224 147,220', RED], ['52,264 135,264', '#000'],
  ['110,334.5 118,334.5', RED], ['130,334 138,317', RED], ['105,348.5 130,348.5 146,340', RED], ['92,367 136,367', '#0000aa'],
  ['86,410 141,410', '#0000aa'], ['100,430 135,430 182,447', DRED], ['57,468.5 135,468.5 192,456', '#000'],
  ['55,480.5 135,480.5 143,481', '#555'], ['55,491 132,491 143,501', '#a0a0a0'], ['55,501.5 133,501.5 137,506', '#dcdcdc'],
  ['55,511 137,511', '#87cefe'], ['55,512.5 137,512.5', '#87cefe'], ['67,527 128,527 175,465', ORANGE],
  ['53,556.5 186,556.5', '#87cefe'], ['53,558 186,558', '#87cefe'], ['50,571.5 192,571.5', '#888'], ['40,582.5 122,582.5', '#222'], ['132,582.5 140,582.5', '#222'],
  ['74,594 150,594', '#222'], ['26,605 210,605 218,593', '#ffb000'], ['140,623 147,623 157,608', '#000']
];
const polylines = leaders.map(([pts, color]) => `<polyline points="${pts}" fill="none" stroke="${color}" stroke-width="1"/>`).join('');
page.insertAdjacentHTML('beforeend', `<svg width="820" height="660" style="left:0;top:0;pointer-events:none">${polylines}</svg>`);
</script>
</body>
</html>
